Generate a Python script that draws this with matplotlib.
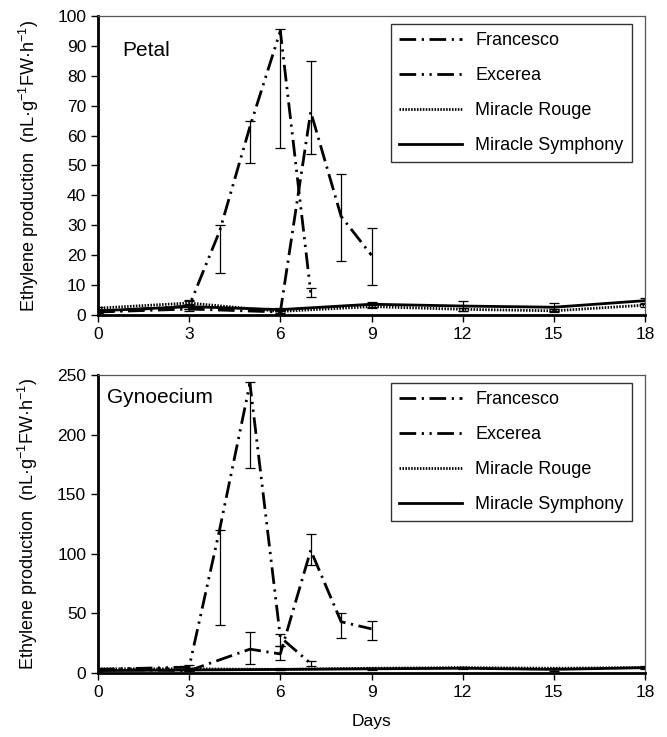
import numpy as np
import matplotlib
matplotlib.use("Agg")
import matplotlib.pyplot as plt

plt.rcParams['font.family'] = ['Liberation Sans', 'DejaVu Sans']
plt.rcParams['mathtext.fontset'] = 'custom'
plt.rcParams['mathtext.rm'] = 'Liberation Sans'
plt.rcParams['mathtext.it'] = 'Liberation Sans'
plt.rcParams['lines.scale_dashes'] = False

# sampling days
days_all = [0, 3, 6, 9, 12, 15, 18]
fran_days_petal = [0, 3, 6, 7, 8, 9]
exc_days = [0, 3, 4, 5, 6, 7]
fran_days_gyn = [0, 3, 5, 6, 7, 8, 9]

# Petal (nL g-1 FW h-1)
petal_fran = [1.0, 2.0, 1.0, 68, 33, 20]
petal_fran_lo = [0.7, 1.5, 0.5, 54, 18, 10]
petal_fran_hi = [1.3, 3.0, 1.5, 85, 47, 29]
petal_exc = [1.0, 3.0, 28, 63, 95, 7.5]
petal_exc_lo = [0.8, 2.0, 14, 51, 56, 6]
petal_exc_hi = [1.2, 5.0, 30, 65, 95.5, 9]
petal_rouge = [2.3, 4.0, 1.2, 2.8, 1.9, 1.4, 3.3]
petal_rouge_err = [0.5, 0.6, 0.4, 0.5, 0.5, 0.5, 0.6]
petal_symph = [1.4, 2.8, 1.8, 3.6, 3.0, 2.6, 4.8]
petal_symph_err = [0.5, 0.8, 0.6, 0.9, 1.6, 1.3, 1.0]

# Gynoecium
gyn_fran = [3.0, 2.0, 20, 16, 103, 43, 37]
gyn_fran_lo = [2.5, 1.5, 7.5, 11, 91, 29, 28]
gyn_fran_hi = [3.5, 3.0, 34, 23, 117, 50, 44]
gyn_exc = [3.0, 5.0, 120, 243, 30, 8]
gyn_exc_lo = [2.5, 3.0, 40, 172, 23, 6]
gyn_exc_hi = [3.5, 7.0, 120, 244, 33, 10]
gyn_rouge = [3.5, 3.5, 3.0, 4.0, 4.5, 4.0, 4.5]
gyn_rouge_err = [0.5, 0.5, 0.5, 0.5, 0.6, 0.5, 0.6]
gyn_symph = [2.0, 2.5, 3.0, 3.5, 4.0, 3.0, 4.5]
gyn_symph_err = [0.8, 0.8, 0.8, 1.0, 1.0, 1.0, 1.5]

names = ['Francesco', 'Excerea', 'Miracle Rouge', 'Miracle Symphony']
styles = [
    dict(dashes=(12, 4, 1.6, 4)),
    dict(dashes=(12, 4, 1.6, 4, 1.6, 4)),
    dict(dashes=(1.1, 1.0)),
    dict(linestyle='-'),
]


def err(mean, lo, hi):
    mean = np.asarray(mean, float)
    return [mean - np.asarray(lo, float), np.asarray(hi, float) - mean]


def panel(ax, series, ymax, ystep, title, title_xy):
    for (x, y, yerr), name, st in zip(series, names, styles):
        ax.errorbar(x, y, yerr=yerr, fmt='none', ecolor='black',
                    elinewidth=0.9, capsize=3.6, capthick=0.9, zorder=2)
        ax.plot(x, y, color='black', lw=2.0, label=name, zorder=3, **st)
    ax.set_xlim(0, 18)
    ax.set_ylim(0, ymax)
    ax.set_xticks(days_all)
    ax.set_yticks(np.arange(0, ymax + 1, ystep))
    ax.tick_params(direction='out', length=5, width=1, labelsize=12.5)
    for s in ['left', 'bottom']:
        ax.spines[s].set_linewidth(2.0)
    for s in ['top', 'right']:
        ax.spines[s].set_linewidth(0.9)
        ax.spines[s].set_color('#555555')
    ax.text(title_xy[0], title_xy[1], title, transform=ax.transAxes,
            fontsize=15, va='top', ha='left')
    ax.set_ylabel('Ethylene production  (nL·g$^{-1}$FW·h$^{-1}$)',
                  fontsize=13, labelpad=12)
    leg = ax.legend(loc='upper right', bbox_to_anchor=(0.976, 0.973),
                    handlelength=3.5, handletextpad=0.75, labelspacing=1.0,
                    fontsize=13, fancybox=False, framealpha=1,
                    borderpad=0.45, borderaxespad=0)
    leg.get_frame().set_edgecolor('#333333')
    leg.get_frame().set_linewidth(1.0)


fig = plt.figure(figsize=(6.67, 7.37), dpi=100)
ax1 = fig.add_axes([98 / 667, 1 - 315 / 737, 547 / 667, 299 / 737])
ax2 = fig.add_axes([98 / 667, 1 - 673 / 737, 547 / 667, 298 / 737])

panel(ax1, [
    (fran_days_petal, petal_fran, err(petal_fran, petal_fran_lo, petal_fran_hi)),
    (exc_days, petal_exc, err(petal_exc, petal_exc_lo, petal_exc_hi)),
    (days_all, petal_rouge, petal_rouge_err),
    (days_all, petal_symph, petal_symph_err),
], 100, 10, 'Petal', (0.044, 0.915))

panel(ax2, [
    (fran_days_gyn, gyn_fran, err(gyn_fran, gyn_fran_lo, gyn_fran_hi)),
    (exc_days, gyn_exc, err(gyn_exc, gyn_exc_lo, gyn_exc_hi)),
    (days_all, gyn_rouge, gyn_rouge_err),
    (days_all, gyn_symph, gyn_symph_err),
], 250, 50, 'Gynoecium', (0.016, 0.958))

ax2.set_xlabel('Days', fontsize=12.5, labelpad=10)

fig.savefig('out.png', dpi=100)
